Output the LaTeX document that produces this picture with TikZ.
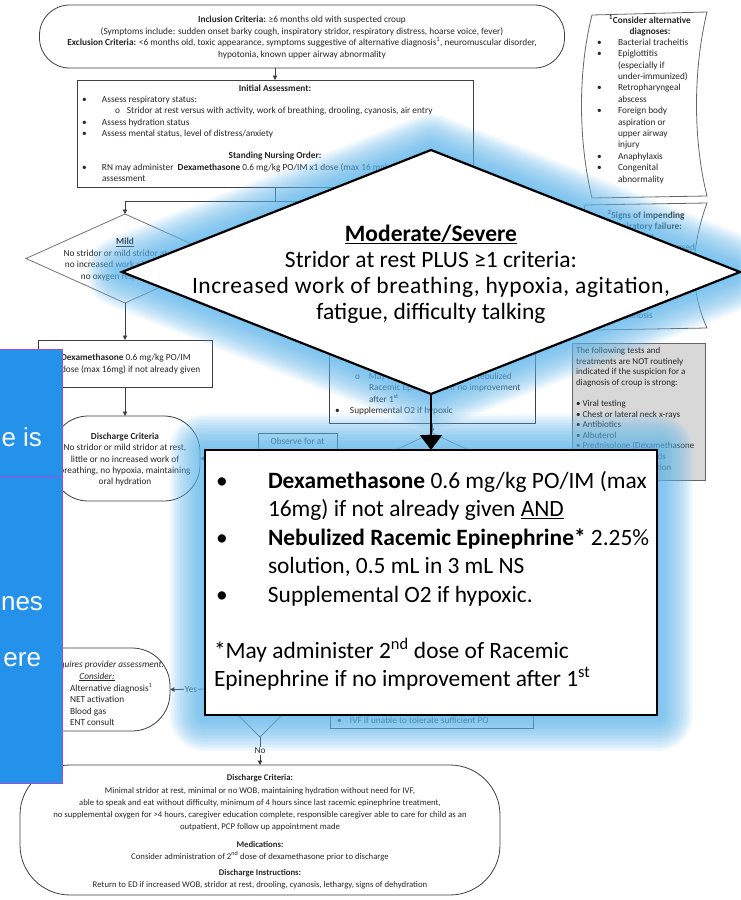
\documentclass[tikz,border=0pt]{standalone}
\usepackage{fontspec}
\setmainfont{Carlito}
\newfontfamily\arialf{Liberation Sans}
\usetikzlibrary{arrows.meta,shapes.geometric}
\definecolor{glowc}{RGB}{95,185,240}
\definecolor{slideblue}{RGB}{36,145,235}
\definecolor{slidepurple}{RGB}{165,75,215}
\definecolor{grayfill}{RGB}{216,216,216}
\begin{document}
\begin{tikzpicture}[x=1pt,y=-1pt,
  every node/.style={inner sep=0pt,outer sep=0pt},
  fbox/.style={draw=black!75,line width=0.8pt},
  ln/.style={draw=black!75,line width=0.8pt},
  arr/.style={ln,-{Triangle[length=4.5pt,width=4.5pt]}},
  sm/.style={font=\fontsize{9.3}{11.4}\selectfont,text=black!85},
  xs/.style={font=\fontsize{8.7}{12.1}\selectfont,text=black!85},
  bigtxt/.style={font=\fontsize{23.5}{26}\selectfont,text=black},
  calltxt/.style={font=\fontsize{23.4}{28.5}\selectfont,text=black},
  slidetxt/.style={font=\arialf\fontsize{26}{30}\selectfont,text=white},
]
\useasboundingbox (0,0) rectangle (740,900);
\fill[white] (0,0) rectangle (740,900);

% ---------- top terminal ----------
\node[fbox,rounded corners=30pt,minimum width=525pt,minimum height=63pt] (top) at (302,36.5) {};
\node[sm,align=center] (topT) at (302,37.5) {\textbf{Inclusion Criteria:} ≥6 months old with suspected croup\\
(Symptoms include: sudden onset barky cough, inspiratory stridor, respiratory distress, hoarse voice, fever)\\
\textbf{Exclusion Criteria:} <6 months old, toxic appearance, symptoms suggestive of alternative diagnosis\textsuperscript{1}, neuromuscular disorder,\\
hypotonia, known upper airway abnormality};

% ---------- initial assessment ----------
\node[fbox,minimum width=396pt,minimum height=107pt] (init) at (275,133.5) {};
\node[sm,font=\fontsize{9.3}{11.4}\selectfont\bfseries] (initT) at (275,88) {Initial Assessment:};
\node[sm,anchor=base west] (initL) at (82,102.3) {\begin{tabular}[t]{@{}p{20pt}@{}l@{}}
• & Assess respiratory status:\\
 & \hspace{13pt}o\hspace{7pt}Stridor at rest versus with activity, work of breathing, drooling, cyanosis, air entry\\
• & Assess hydration status\\
• & Assess mental status, level of distress/anxiety
\end{tabular}};
\node[sm,font=\fontsize{9.3}{11.4}\selectfont\bfseries] (snoT) at (275,156) {Standing Nursing Order:};
\node[sm,anchor=base west] (snoL) at (82,170.3) {\begin{tabular}[t]{@{}p{20pt}@{}l@{}}
• & RN may administer\ \ \textbf{Dexamethasone} 0.6 mg/kg PO/IM x1 dose (max 16 mg) prior to provider\\
 & assessment
\end{tabular}};

% ---------- mild branch ----------
\coordinate (j1) at (275,201);
\coordinate (j2) at (125,201);
\coordinate (j3) at (431,201);
\draw[arr] (top.south -| init.north) -- (init.north);
\draw[ln] (init.south) -- (j1);
\draw[ln] (j2) -- (j3);
\draw[arr] (j3) -- ++(0,14);
\node[diamond,draw=black!55,line width=0.8pt,minimum width=198pt,minimum height=89pt] (mild) at (125,258.5) {};
\draw[arr] (j2) -- (mild.north);
\node[sm,align=center] (mildT) at (125,259.5) {\underline{\textbf{Mild}}\\No stridor or mild stridor at rest,\\no increased work of breathing,\\no oxygen requirement};

\node[fbox,minimum width=174pt,minimum height=47pt] (dex) at (125,363.5) {};
\node[sm,align=left,anchor=west] (dexT) at (61,364) {\textbf{Dexamethasone} 0.6 mg/kg PO/IM\\dose (max 16mg) if not already given};
\draw[arr] (mild.south) -- (dex.north);

\node[fbox,rounded corners=36pt,minimum width=148pt,minimum height=85pt] (dc1) at (126,458.5) {};
\node[sm,align=center] (dc1T) at (125,459.5) {\textbf{Discharge Criteria}\\No stridor or mild stridor at rest,\\little or no increased work of\\breathing, no hypoxia, maintaining\\oral hydration};
\draw[arr] (dex.south) -- (dex.south |- dc1.north);

% ---------- moderate branch (mostly hidden) ----------
\node[fbox,minimum width=206pt,minimum height=123pt] (modbox) at (432,361.5) {};
\node[sm,anchor=base west] (modL) at (352,379.3) {\begin{tabular}[t]{@{}p{17pt}@{}l@{}}
\hspace{3pt}o & May administer 2\textsuperscript{nd} dose of Nebulized\\
 & Racemic Epinephrine if no improvement\\
 & after 1\textsuperscript{st}
\end{tabular}};
\node[sm,anchor=base west] (modL2) at (335,413.3) {\begin{tabular}[t]{@{}p{15pt}@{}l@{}}
• & Supplemental O2 if hypoxic
\end{tabular}};
\node[diamond,draw=black!55,line width=0.8pt,minimum width=180pt,minimum height=84pt] (impr) at (432,475) {};
\draw[arr] (modbox.south) -- (impr.north);

\node[fbox,minimum width=79pt,minimum height=52pt] (obs) at (297.5,459) {};
\node[sm] (obsT) at (297.5,441) {Observe for at};
\draw[arr] (obs.west) -- (dc1.east);

\node[fbox,minimum width=203pt,minimum height=88pt] (ivf) at (431.5,684) {};
\node[sm,anchor=base west] (ivfT) at (337,723.3) {\begin{tabular}[t]{@{}p{13pt}@{}l@{}}
• & IVF if unable to tolerate sufficient PO
\end{tabular}};

\node[diamond,draw=black!55,line width=0.8pt,minimum width=96pt,minimum height=96pt] (yn) at (260,689) {};
\node[fbox,rounded corners=38pt,minimum width=150pt,minimum height=83pt] (prov) at (95,689.5) {};
\node[sm,font=\fontsize{9.3}{11.4}\selectfont\itshape,anchor=east] (provT1) at (164,665) {Requires provider assessment.};
\node[sm,font=\fontsize{9.3}{11.4}\selectfont\itshape] (provT2) at (97,677) {\underline{Consider:}};
\node[sm,anchor=base west] (provL) at (70,691.3) {\begin{tabular}[t]{@{}l@{}}
Alternative diagnosis\textsuperscript{1}\\NET activation\\Blood gas\\ENT consult
\end{tabular}};
\draw[arr] (yn.west) -- node[sm,fill=white,inner sep=1pt] (yesL) {Yes} (prov.east);

\node[fbox,rounded corners=50pt,minimum width=480pt,minimum height=130pt] (dc2) at (260,830) {};
\draw[arr] (yn.south) -- node[sm,fill=white,inner sep=1pt] (noL) {No} (dc2.north);
\node[xs,align=center] (dc2T) at (260,832) {\textbf{Discharge Criteria:}\\
Minimal stridor at rest, minimal or no WOB, maintaining hydration without need for IVF,\\
able to speak and eat without difficulty, minimum of 4 hours since last racemic epinephrine treatment,\\
no supplemental oxygen for >4 hours, caregiver education complete, responsible caregiver able to care for child as an\\
outpatient, PCP follow up appointment made\\[6pt]
\textbf{Medications:}\\
Consider administration of 2\textsuperscript{nd} dose of dexamethasone prior to discharge\\[4pt]
\textbf{Discharge Instructions:}\\
Return to ED if increased WOB, stridor at rest, drooling, cyanosis, lethargy, signs of dehydration};

% ---------- right side boxes ----------
\draw[ln,draw=black!60] (592,15) -- (707,12) .. controls (693,70) and (693,140) .. (707,196)
  -- (592,198) .. controls (578,140) and (578,70) .. (592,15) -- cycle;
\node[sm,font=\fontsize{9.3}{11.4}\selectfont\bfseries,align=center] (altT) at (650,25.5) {\textsuperscript{1}Consider alternative\\diagnoses:};
\node[sm,anchor=base west] (altL) at (597,45.3) {\begin{tabular}[t]{@{}p{21pt}@{}l@{}}
• & Bacterial tracheitis\\
• & Epiglottitis\\
 & (especially if\\
 & under-immunized)\\
• & Retropharyngeal\\
 & abscess\\
• & Foreign body\\
 & aspiration or\\
 & upper airway\\
 & injury\\
• & Anaphylaxis\\
• & Congenital\\
 & abnormality
\end{tabular}};

\draw[ln,draw=black!60] (585,205) -- (707,203) .. controls (690,250) and (690,290) .. (707,328)
  -- (595,330) .. controls (578,290) and (578,250) .. (585,205) -- cycle;
\node[sm,font=\fontsize{9.3}{11.4}\selectfont\bfseries,align=center] (sigT) at (646,220.5) {\textsuperscript{2}Signs of impending\\respiratory failure:};
\node[sm,anchor=base west] (sigL) at (601,239.3) {\begin{tabular}[t]{@{}p{19pt}@{}l@{}}
• & Agitation\\
• & Lethargy/decreased
\end{tabular}};
\node[sm,anchor=base west] (sigL2) at (601,318.3) {\begin{tabular}[t]{@{}p{19pt}@{}l@{}}
• & Cyanosis
\end{tabular}};

\node[draw=black!60,fill=grayfill,line width=0.8pt,minimum width=133pt,minimum height=137pt] (notind) at (638.5,411.5) {};
\node[font=\fontsize{9}{10.6}\selectfont,text=black!85,anchor=base west] (notT) at (576,353.5) {\begin{tabular}[t]{@{}l@{}}
The following tests and\\
treatments are NOT routinely\\
indicated if the suspicion for a\\
diagnosis of croup is strong:\\[10.6pt]
• Viral testing\\
• Chest or lateral neck x-rays\\
• Antibiotics\\
• Albuterol\\
• Prednisolone (Dexamethasone\\
• Inhaled corticosteroids\\
• Cool mist humidification
\end{tabular}};

% ---------- slide panel on the left ----------
\node[fill=slideblue,draw=slidepurple,line width=0.8pt,minimum width=64pt,minimum height=434pt] (slide) at (30,566) {};
\draw[slidepurple,line width=0.8pt] (slide.west |- 0,476) -- (slide.east |- 0,476);
\node[slidetxt,anchor=east] (s1) at (42,437) {e is};
\node[slidetxt,anchor=east] (s2) at (43,604) {nes};
\node[slidetxt,anchor=east] (s3) at (41,660) {ere};

% ---------- glow ----------
\coordinate (dL) at (122,272);
\coordinate (dT) at (431,150);
\coordinate (dR) at (740,272);
\coordinate (dB) at (431,394);
\node[minimum width=452pt,minimum height=265pt] (callout) at (431,582.5) {};
\foreach \w in {72,69,...,3} {
  \draw[glowc,opacity=0.06,line width=\w pt,line join=round] (dL) -- (dT) -- (dR) -- (dB) -- cycle;
  \draw[glowc,opacity=0.06,line width=\w pt,line join=round] (callout.south west) rectangle (callout.north east);
}

% ---------- moderate/severe diamond ----------
\filldraw[fill=white,draw=black,line width=2.2pt] (dL) -- (dT) -- (dR) -- (dB) -- cycle;
\node[bigtxt,align=center] (modT) at (431,274) {\underline{\textbf{Moderate/Severe}}\\
Stridor at rest PLUS ≥1 criteria:\\
{\addfontfeature{LetterSpace=2.5}Increased work of breathing, hypoxia, agitation,}\\
fatigue, difficulty talking};

% ---------- callout ----------
\node[draw=black,fill=white,line width=2.2pt,minimum width=452pt,minimum height=265pt] (calloutbox) at (431,582.5) {};
\draw[line width=2.2pt,-{Triangle[length=15pt,width=22pt]}] (dB) -- (calloutbox.north);
\node[calltxt,anchor=base west] (callL) at (216,488.4) {\begin{tabular}[t]{@{}p{52pt}@{}l@{}}
• & \textbf{Dexamethasone} 0.6 mg/kg PO/IM (max\\
 & 16mg) if not already given \underline{AND}\\
• & \textbf{Nebulized Racemic Epinephrine*} 2.25\%\\
 & solution, 0.5 mL in 3 mL NS\\
• & Supplemental O2 if hypoxic.
\end{tabular}};
\node[calltxt,anchor=base west] (callN) at (214,658.4) {\begin{tabular}[t]{@{}l@{}}
*May administer 2\textsuperscript{nd} dose of Racemic\\
Epinephrine if no improvement after 1\textsuperscript{st}
\end{tabular}};
\end{tikzpicture}
\end{document}
